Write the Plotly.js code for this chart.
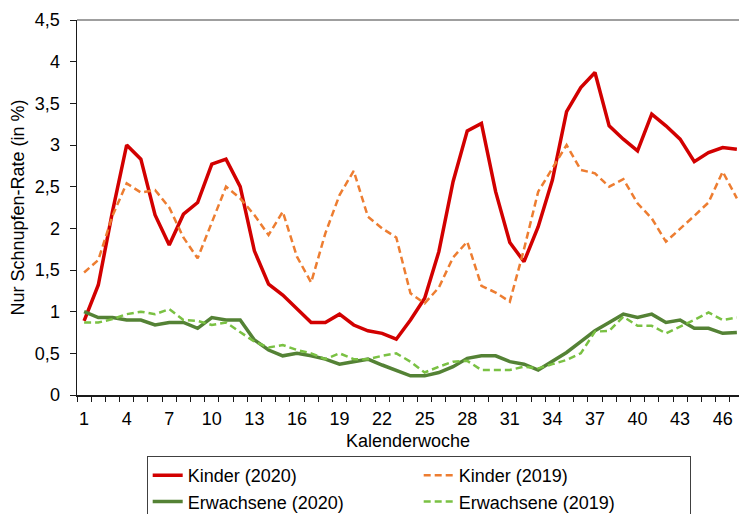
<!DOCTYPE html>
<html>
<head>
<meta charset="utf-8">
<script src="https://cdn.plot.ly/plotly-3.0.1.min.js"></script>
<style>
  html, body { margin: 0; padding: 0; background: #ffffff; overflow: hidden; }
  #chart { width: 739px; height: 514px; }
</style>
</head>
<body>
<div id="chart"></div>
<script>
// Kalenderwochen
const weeks = [1, 2, 3, 4, 5, 6, 7, 8, 9, 10, 11, 12, 13, 14, 15, 16, 17, 18, 19, 20, 21, 22, 23, 24,
               25, 26, 27, 28, 29, 30, 31, 32, 33, 34, 35, 36, 37, 38, 39, 40, 41, 42, 43, 44, 45, 46, 47];

// Nur Schnupfen-Rate (in %)
const kinder2020 = [0.89, 1.32, 2.2, 3.0, 2.83, 2.16, 1.8, 2.17, 2.31, 2.77, 2.83, 2.5, 1.73, 1.33, 1.2, 1.04,
                    0.87, 0.87, 0.97, 0.84, 0.77, 0.74, 0.67, 0.9, 1.16, 1.72, 2.56, 3.17, 3.26, 2.44, 1.83, 1.6,
                    2.02, 2.58, 3.4, 3.69, 3.87, 3.23, 3.07, 2.93, 3.37, 3.23, 3.07, 2.8, 2.91, 2.97, 2.95];

const kinder2019 = [1.47, 1.62, 2.15, 2.54, 2.43, 2.46, 2.25, 1.89, 1.64, 2.08, 2.5, 2.36, 2.16, 1.92, 2.2, 1.66,
                    1.35, 1.94, 2.4, 2.69, 2.14, 2.0, 1.89, 1.22, 1.1, 1.29, 1.65, 1.84, 1.31, 1.23, 1.12, 1.75,
                    2.44, 2.72, 3.0, 2.7, 2.66, 2.5, 2.59, 2.3, 2.12, 1.84, 1.99, 2.15, 2.31, 2.68, 2.36];

const erwachsene2020 = [1.0, 0.93, 0.93, 0.9, 0.9, 0.84, 0.87, 0.87, 0.8, 0.93, 0.9, 0.9, 0.66, 0.54, 0.47, 0.5,
                        0.47, 0.43, 0.37, 0.4, 0.43, 0.36, 0.3, 0.23, 0.23, 0.27, 0.34, 0.44, 0.47, 0.47, 0.4, 0.37,
                        0.3, 0.4, 0.51, 0.64, 0.77, 0.87, 0.97, 0.93, 0.97, 0.87, 0.9, 0.8, 0.8, 0.74, 0.75];

const erwachsene2019 = [0.87, 0.87, 0.91, 0.97, 1.0, 0.97, 1.03, 0.9, 0.89, 0.84, 0.87, 0.76, 0.64, 0.57, 0.6, 0.54,
                        0.5, 0.43, 0.5, 0.43, 0.43, 0.47, 0.5, 0.4, 0.27, 0.34, 0.4, 0.41, 0.3, 0.3, 0.3, 0.34,
                        0.32, 0.37, 0.42, 0.5, 0.76, 0.77, 0.94, 0.83, 0.83, 0.74, 0.82, 0.9, 0.99, 0.9, 0.93];

const xTickVals = [1, 4, 7, 10, 13, 16, 19, 22, 25, 28, 31, 34, 37, 40, 43, 46];
const xTickText = ['1', '4', '7', '10', '13', '16', '19', '22', '25', '28', '31', '34', '37', '40', '43', '46'];

const seriesNames = ['Kinder (2020)', 'Kinder (2019)', 'Erwachsene (2020)', 'Erwachsene (2019)'];

const FONT = '"Liberation Sans", Arial, sans-serif';

const traces = [
  { x: weeks, y: kinder2020, name: seriesNames[0], type: 'scatter', mode: 'lines',
    line: { color: '#d20000', width: 3.5 } },
  { x: weeks, y: kinder2019, name: seriesNames[1], type: 'scatter', mode: 'lines',
    line: { color: '#ed7d31', width: 2.5, dash: '7px,4px' } },
  { x: weeks, y: erwachsene2020, name: seriesNames[2], type: 'scatter', mode: 'lines',
    line: { color: '#548235', width: 3.5 } },
  { x: weeks, y: erwachsene2019, name: seriesNames[3], type: 'scatter', mode: 'lines',
    line: { color: '#7ac143', width: 2.5, dash: '7px,4px' } }
];

const layout = {
  width: 739,
  height: 514,
  margin: { l: 77, r: 0, t: 20, b: 119 },
  paper_bgcolor: '#ffffff',
  plot_bgcolor: '#ffffff',
  separators: ',.',
  font: { family: FONT, size: 18, color: '#000000' },
  showlegend: true,
  xaxis: {
    range: [0.5, 47.15],
    tickmode: 'array',
    tickvals: xTickVals,
    ticktext: xTickText,
    ticks: '',
    ticklabelstandoff: 7,
    showgrid: false,
    zeroline: false,
    showline: true,
    linecolor: '#1a1a1a',
    linewidth: 1.5,
    tickfont: { family: FONT, size: 18, color: '#000000' },
    minor: { ticks: 'outside', tick0: 0.5, dtick: 1, ticklen: 5, tickwidth: 1, tickcolor: '#1a1a1a', showgrid: false },
    title: { text: 'Kalenderwoche', font: { family: FONT, size: 18, color: '#000000' }, standoff: 6 },
    automargin: false,
    fixedrange: true
  },
  yaxis: {
    range: [0, 4.5],
    dtick: 0.5,
    tick0: 0,
    ticks: 'outside',
    ticklen: 6,
    tickwidth: 1,
    tickcolor: '#1a1a1a',
    ticklabelstandoff: 6,
    showgrid: false,
    zeroline: false,
    showline: true,
    linecolor: '#1a1a1a',
    linewidth: 1.5,
    tickfont: { family: FONT, size: 18, color: '#000000' },
    title: { text: 'Nur Schnupfen-Rate (in %)', font: { family: FONT, size: 18, color: '#000000' }, standoff: 5 },
    automargin: false,
    fixedrange: true
  },
  legend: {
    orientation: 'h',
    xref: 'container',
    yref: 'container',
    x: 0.1985,
    xanchor: 'left',
    y: 0.1128,
    yanchor: 'top',
    bordercolor: '#404040',
    borderwidth: 1,
    bgcolor: '#ffffff',
    entrywidth: 226,
    entrywidthmode: 'pixels',
    itemwidth: 30,
    traceorder: 'normal',
    font: { family: FONT, size: 18, color: '#000000' }
  },
  shapes: [
    { type: 'line', xref: 'paper', yref: 'paper', x0: 0, x1: 1, y0: 1, y1: 1,
      line: { color: '#7f7f7f', width: 1.5 } }
  ]
};

Plotly.newPlot('chart', traces, layout, { displayModeBar: false, staticPlot: true });
</script>
</body>
</html>
